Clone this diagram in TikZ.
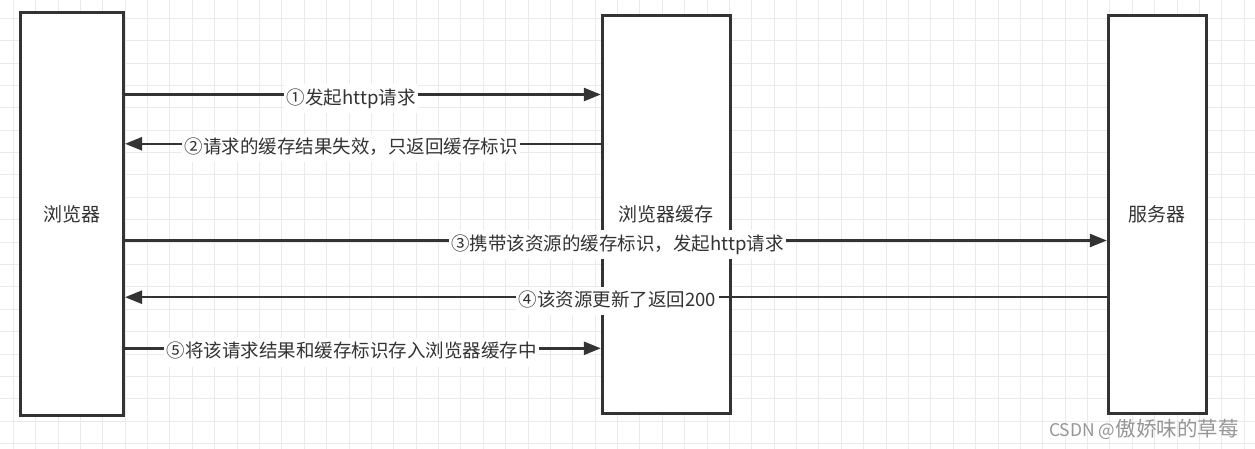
\documentclass[tikz,border=0pt]{standalone}
\usepackage{fontspec}
\setmainfont{Noto Sans CJK SC}
\usetikzlibrary{arrows.meta}
\definecolor{ink}{RGB}{51,51,51}
\definecolor{gridc}{RGB}{234,234,234}
\definecolor{wm}{RGB}{150,150,150}
\begin{document}
\begin{tikzpicture}[x=1pt,y=-1pt,
  box/.style={draw=ink, line width=3pt, fill=white, text=ink, inner sep=0pt,
    font=\fontsize{19}{19}\selectfont},
  lab/.style={fill=white, inner xsep=2.5pt, inner ysep=5pt, text height=14.8pt,
    text depth=3.7pt, text=ink, font=\fontsize{18.5}{18.5}\selectfont},
  arr/.style={draw=ink, line width=2.5pt, -{Triangle[length=17pt,width=13pt]}}]
\useasboundingbox (0,0) rectangle (1255,449);
\fill[white] (0,0) rectangle (1255,449);
% grid
\foreach \i in {0,...,55} \draw[gridc, line width=1pt] (13.3+\i*22.38,0) -- (13.3+\i*22.38,449);
\foreach \j in {0,...,19} \draw[gridc, line width=1pt] (0,18.3+\j*22.38) -- (1255,18.3+\j*22.38);
% boxes
\node[box, minimum width=103.5pt, minimum height=403.2pt] (browser) at (71.75,213.9) {浏览器};
\node[box, minimum width=128pt, minimum height=397.3pt] (cache) at (666.3,214.65) {浏览器缓存};
\node[box, minimum width=97.7pt, minimum height=397.3pt] (server) at (1157.15,214.65) {服务器};
% message rows
\coordinate (m1) at (0,94.5);
\coordinate (m2) at (0,143.8);
\coordinate (m3) at (0,240.5);
\coordinate (m4) at (0,297.2);
\coordinate (m5) at (0,348.3);
% arrows
\draw[arr] (browser.east |- m1) -- (cache.west |- m1);
\draw[arr] (cache.west |- m2) -- (browser.east |- m2);
\draw[arr] (browser.east |- m3) -- (server.west |- m3);
\draw[arr] (server.west |- m4) -- (browser.east |- m4);
\draw[arr] (browser.east |- m5) -- (cache.west |- m5);
% labels
\node[lab] (l1) at (351.3,98.5) {①发起http请求};
\node[lab] (l2) at (351.3,147.8) {②请求的缓存结果失效，只返回缓存标识};
\node[lab] (l3) at (617.5,244.5) {③携带该资源的缓存标识，发起http请求};
\node[lab] (l4) at (617.5,301.2) {④该资源更新了返回200};
\node[lab] (l5) at (351.8,352.3) {⑤将该请求结果和缓存标识存入浏览器缓存中};
% watermark
\node[anchor=base west, text=wm, inner sep=0pt] (wmk) at (1049,436)
  {{\fontsize{17.5}{17.5}\selectfont CSDN @}{\fontsize{20.5}{20.5}\selectfont 傲娇味的草莓}};
\end{tikzpicture}
\end{document}
